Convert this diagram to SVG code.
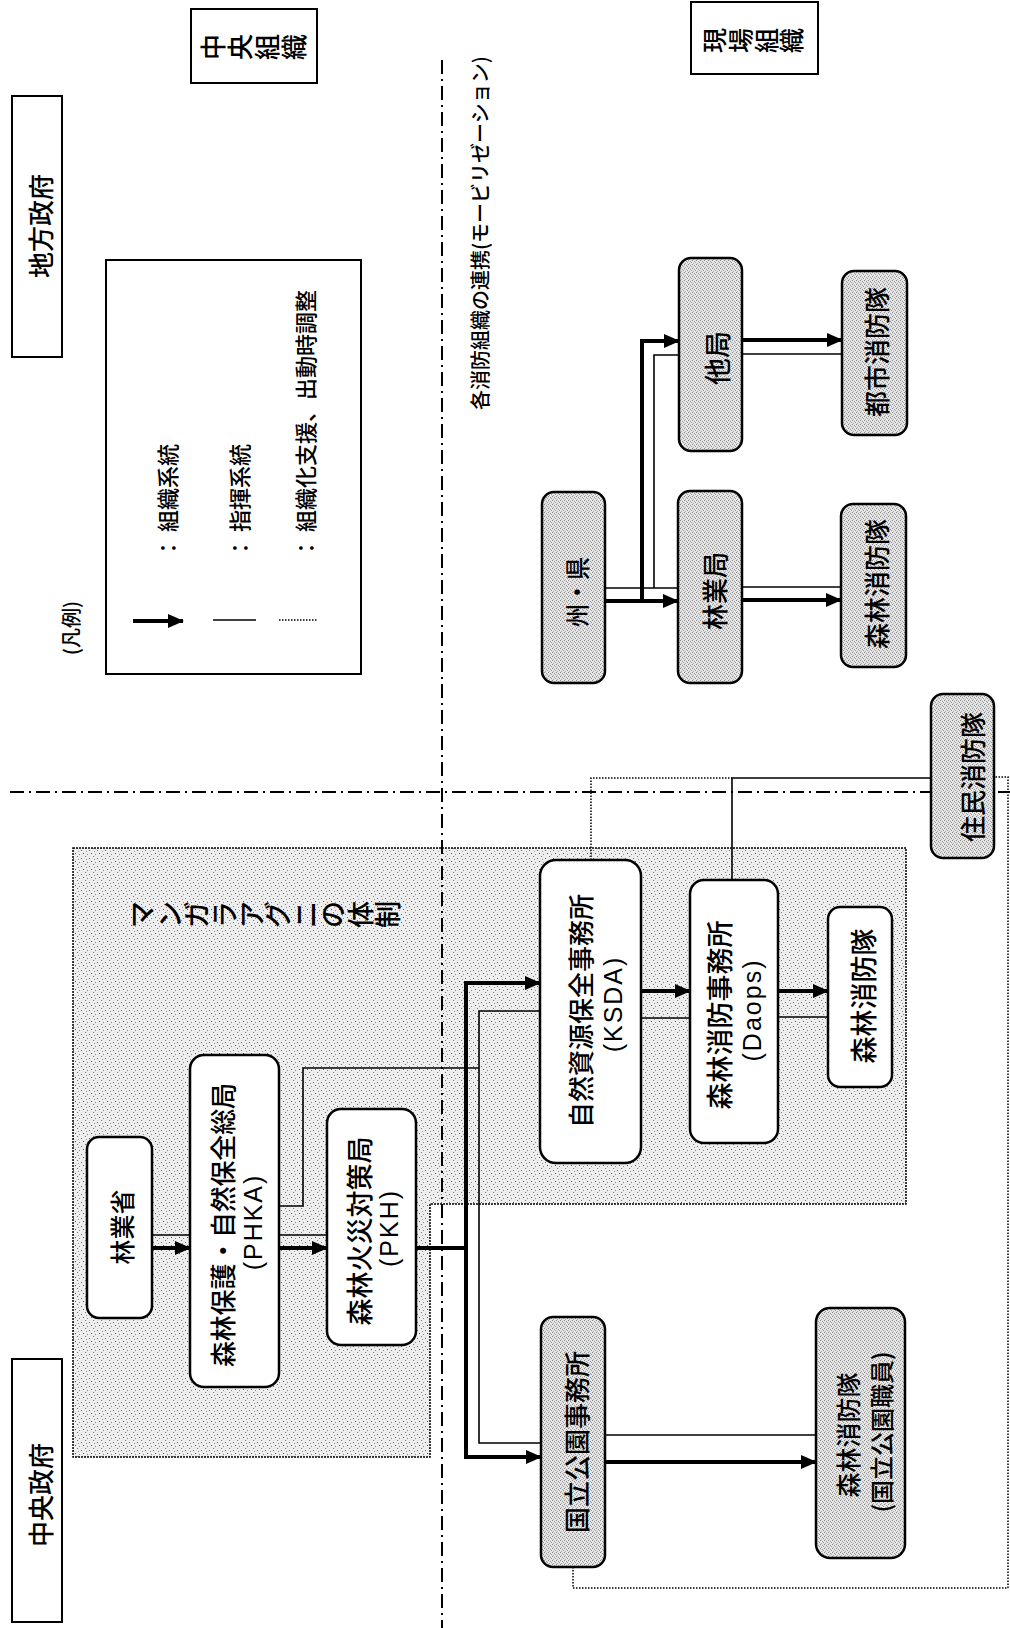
<svg xmlns="http://www.w3.org/2000/svg" width="1010" height="1628" viewBox="0 0 1010 1628">
<style>
text{font-family:'Noto Sans CJK JP','Noto Sans CJK SC',sans-serif;fill:#000;font-weight:500}
.lat{font-family:'Liberation Sans','Noto Sans CJK JP',sans-serif}
.c{text-anchor:middle;dominant-baseline:central}
.s{text-anchor:start;dominant-baseline:central}
.box{fill:#fff;stroke:#000;stroke-width:2.5}
.gbox{fill:url(#grey);stroke:#000;stroke-width:2.5}
.lbox{fill:#fff;stroke:#000;stroke-width:2}
.thick{fill:none;stroke:#000;stroke-width:4}
.thin{fill:none;stroke:#000;stroke-width:1.6}
.dot{fill:none;stroke:#000;stroke-width:1.5;stroke-dasharray:1.5 1.5}
.dd{fill:none;stroke:#000;stroke-width:2;stroke-dasharray:14 5 2 5}
</style>
<defs>
<marker id="ah" markerWidth="16" markerHeight="14" refX="15" refY="7" orient="auto" markerUnits="userSpaceOnUse">
<path d="M0,0 L16,7 L0,14 z" fill="#000"/>
</marker>
<pattern id="stip" width="8" height="8" patternUnits="userSpaceOnUse">
<rect width="8" height="8" fill="#eeeeee"/>
<rect x="1" y="2" width="1" height="1" fill="#666"/>
<rect x="5" y="0" width="1" height="1" fill="#777"/>
<rect x="3" y="5" width="1" height="1" fill="#555"/>
<rect x="7" y="6" width="1" height="1" fill="#888"/>
<rect x="6" y="3" width="1" height="1" fill="#999"/>
</pattern>
<pattern id="grey" width="4" height="4" patternUnits="userSpaceOnUse">
<rect width="4" height="4" fill="#e6e6e6"/>
<rect x="0" y="0" width="1" height="1" fill="#888"/>
<rect x="2" y="1" width="1" height="1" fill="#999"/>
<rect x="1" y="3" width="1" height="1" fill="#aaa"/>
<rect x="3" y="2" width="1" height="1" fill="#999"/>
</pattern>
</defs>
<rect width="1010" height="1628" fill="#fff"/>

<g id="area">
<path d="M73,848 H906 V1204 H430 V1457 H73 Z" fill="url(#stip)" stroke="#000" stroke-width="1.5" stroke-dasharray="2 1"/>
<text x="152" y="928" rotate="-90" font-size="27" letter-spacing="0.5">マンガラアグニの体制</text>
</g>

<g id="dividers">
<line class="dd" x1="442" y1="60" x2="442" y2="1628"/>
<line class="dd" x1="10" y1="792" x2="1010" y2="792"/>
<text class="s" transform="translate(479,410) rotate(-90)" font-size="20">各消防組織の連携(モービリゼーション)</text>
</g>

<g id="lbl-chuo-soshiki">
<rect class="lbox" x="191" y="9" width="126" height="74"/>
<text x="223" y="60" rotate="-90" font-size="26" letter-spacing="1">中央組織</text>
</g>
<g id="lbl-genba-soshiki">
<rect class="lbox" x="691" y="2" width="127" height="72"/>
<text x="724" y="53" rotate="-90" font-size="25" letter-spacing="0.8">現場組織</text>
</g>
<g id="lbl-chiho">
<rect class="lbox" x="12" y="96" width="50" height="261"/>
<text class="c" transform="translate(39,226) rotate(-90)" font-size="26">地方政府</text>
</g>
<g id="lbl-chuo">
<rect class="lbox" x="12" y="1359" width="50" height="263"/>
<text class="c" transform="translate(39,1495) rotate(-90)" font-size="26">中央政府</text>
</g>

<g id="legend">
<text class="c" transform="translate(70,628) rotate(-90)" font-size="20">(凡例)</text>
<rect class="lbox" x="106" y="260" width="255" height="414"/>
<line class="thick" x1="133" y1="621" x2="183" y2="621" marker-end="url(#ah)"/>
<line class="thin" x1="213" y1="620" x2="256" y2="620"/>
<line class="dot" x1="279" y1="620" x2="318" y2="620"/>
<text class="s" transform="translate(166,559) rotate(-90)" font-size="22">： 組織系統</text>
<text class="s" transform="translate(238,559) rotate(-90)" font-size="22">： 指揮系統</text>
<text class="s" transform="translate(304,559) rotate(-90)" font-size="22">： 組織化支援、出動時調整</text>
</g>

<g id="connectors">
<path class="thick" d="M152,1248 H190" marker-end="url(#ah)"/>
<path class="thick" d="M279,1248 H327" marker-end="url(#ah)"/>
<path class="thick" d="M416,1248 H466"/>
<path class="thick" d="M466,1250 V983 H540" marker-end="url(#ah)"/>
<path class="thick" d="M466,1246 V1457 H541" marker-end="url(#ah)"/>
<path class="thick" d="M641,991 H690" marker-end="url(#ah)"/>
<path class="thick" d="M778,991 H828" marker-end="url(#ah)"/>
<path class="thick" d="M605,1462 H816" marker-end="url(#ah)"/>
<path class="thick" d="M605,601 H678" marker-end="url(#ah)"/>
<path class="thick" d="M642,603 V341 H679" marker-end="url(#ah)"/>
<path class="thick" d="M742,600 H841" marker-end="url(#ah)"/>
<path class="thick" d="M742,340 H842" marker-end="url(#ah)"/>
<path class="thin" d="M152,1235 H190"/>
<path class="thin" d="M279,1235 H327"/>
<path class="thin" d="M279,1206 H303 V1068 H479"/>
<path class="thin" d="M479,1068 V1011 H540"/>
<path class="thin" d="M479,1068 V1443 H541"/>
<path class="thin" d="M641,1018 H690"/>
<path class="thin" d="M778,1017 H828"/>
<path class="thin" d="M605,1435 H816"/>
<path class="thin" d="M605,588 H678"/>
<path class="thin" d="M654,588 V355 H679"/>
<path class="thin" d="M742,587 H841"/>
<path class="thin" d="M742,354 H842"/>
<path class="thin" d="M931,778 H732 V880"/>
<path class="dot" d="M591,860 V778 H732"/>
<path class="dot" d="M573,1567 V1588 H1008 V777 H994"/>
</g>

<g id="n-ringyosho">
<rect class="box" x="87" y="1137" width="65" height="181" rx="12"/>
<text class="c" transform="translate(121,1227) rotate(-90)" font-size="25">林業省</text>
</g>
<g id="n-phka">
<rect class="box" x="190" y="1055" width="89" height="332" rx="14"/>
<text class="c" transform="translate(221,1225) rotate(-90)" font-size="26" textLength="284" lengthAdjust="spacing">森林保護・自然保全総局</text>
<text class="c lat" transform="translate(253,1222) rotate(-90)" font-size="25" letter-spacing="2">(PHKA)</text>
</g>
<g id="n-pkh">
<rect class="box" x="327" y="1109" width="89" height="236" rx="14"/>
<text class="c" transform="translate(358,1231) rotate(-90)" font-size="27">森林火災対策局</text>
<text class="c lat" transform="translate(389,1228) rotate(-90)" font-size="25" letter-spacing="2">(PKH)</text>
</g>
<g id="n-ksda">
<rect class="box" x="540" y="860" width="101" height="303" rx="16"/>
<text class="c" transform="translate(579,1011) rotate(-90)" font-size="26">自然資源保全事務所</text>
<text class="c lat" transform="translate(613,1004) rotate(-90)" font-size="25" letter-spacing="2">(KSDA)</text>
</g>
<g id="n-daops">
<rect class="box" x="690" y="880" width="88" height="263" rx="14"/>
<text class="c" transform="translate(718,1015) rotate(-90)" font-size="27">森林消防事務所</text>
<text class="c lat" transform="translate(752,1010) rotate(-90)" font-size="25" letter-spacing="2">(Daops)</text>
</g>
<g id="n-shinrin-shobotai-a">
<rect class="box" x="828" y="907" width="64" height="180" rx="12"/>
<text class="c" transform="translate(862,996) rotate(-90)" font-size="27">森林消防隊</text>
</g>
<g id="n-kokuritsu">
<rect class="gbox" x="541" y="1317" width="64" height="250" rx="12"/>
<text class="c" transform="translate(575,1442) rotate(-90)" font-size="26">国立公園事務所</text>
</g>
<g id="n-shinrin-shobotai-k">
<rect class="gbox" x="816" y="1308" width="89" height="250" rx="14"/>
<text class="c" transform="translate(847,1435) rotate(-90)" font-size="25">森林消防隊</text>
<text class="c" transform="translate(880,1432) rotate(-90)" font-size="24">(国立公園職員)</text>
</g>
<g id="n-shuken">
<rect class="gbox" x="542" y="492" width="63" height="191" rx="12"/>
<text class="c" transform="translate(576,592) rotate(-90)" font-size="25" textLength="70" lengthAdjust="spacingAndGlyphs">州・県</text>
</g>
<g id="n-ringyokyoku">
<rect class="gbox" x="678" y="491" width="64" height="192" rx="12"/>
<text class="c" transform="translate(713,591) rotate(-90)" font-size="26">林業局</text>
</g>
<g id="n-takyoku">
<rect class="gbox" x="679" y="258" width="63" height="193" rx="12"/>
<text class="c" transform="translate(716,358) rotate(-90)" font-size="27">他局</text>
</g>
<g id="n-toshi">
<rect class="gbox" x="842" y="271" width="65" height="164" rx="12"/>
<text class="c" transform="translate(875,352) rotate(-90)" font-size="26">都市消防隊</text>
</g>
<g id="n-shinrin-shobotai-r">
<rect class="gbox" x="841" y="504" width="65" height="163" rx="12"/>
<text class="c" transform="translate(875,584) rotate(-90)" font-size="26">森林消防隊</text>
</g>
<g id="n-jumin">
<rect class="gbox" x="931" y="694" width="63" height="164" rx="12"/>
<text class="c" transform="translate(971,777) rotate(-90)" font-size="26">住民消防隊</text>
</g>
</svg>
